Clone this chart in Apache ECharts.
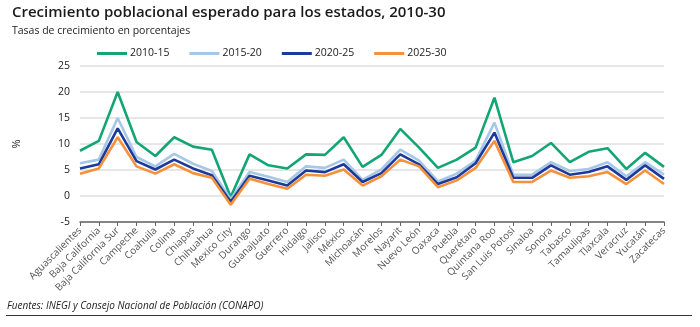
<!DOCTYPE html>
<html>
<head>
<meta charset="utf-8">
<script src="https://cdn.jsdelivr.net/npm/echarts@6/dist/echarts.min.js"></script>
<style>
  html, body { margin: 0; padding: 0; background: #fff; }
  #chart { width: 700px; height: 327px; }
</style>
</head>
<body>
<div id="chart"></div>
<script>
// States of Mexico, in the order shown on the category axis
const states = ['Aguascalientes','Baja California','Baja California Sur','Campeche','Coahuila','Colima','Chiapas','Chihuahua','Mexico City','Durango','Guanajuato','Guerrero','Hidalgo','Jalisco','México','Michoacán','Morelos','Nayarit','Nuevo León','Oaxaca','Puebla','Querétaro','Quintana Roo','San Luis Potosí','Sinaloa','Sonora','Tabasco','Tamaulipas','Tlaxcala','Veracruz','Yucatán','Zacatecas'];

// Expected population growth by period (%)
const growth2010_15 = [8.7,10.6,20.0,10.4,7.7,11.3,9.5,8.9,-0.2,8.0,5.9,5.3,8.0,7.9,11.3,5.6,7.9,12.9,9.3,5.4,7.0,9.3,18.9,6.5,7.7,10.2,6.5,8.5,9.2,5.2,8.3,5.6];
const growth2015_20 = [6.3,7.0,15.0,7.5,5.7,8.1,6.2,4.8,-0.6,4.6,3.7,2.7,5.7,5.4,7.0,3.1,5.1,8.9,6.8,2.8,4.3,6.8,14.1,4.1,4.1,6.5,4.8,5.2,6.5,3.8,6.5,4.1];
const growth2020_25 = [5.3,6.1,13.0,6.7,5.1,7.0,5.3,4.0,-1.1,3.9,3.0,2.0,4.9,4.6,6.1,2.7,4.4,8.0,6.1,2.3,3.6,6.3,12.2,3.5,3.5,5.9,4.1,4.6,5.7,3.1,5.9,3.3];
const growth2025_30 = [4.3,5.3,11.3,5.7,4.3,6.1,4.4,3.5,-1.7,3.3,2.3,1.4,4.1,3.9,5.1,2.0,3.8,7.0,5.7,1.7,3.0,5.4,10.6,2.7,2.7,4.9,3.5,3.8,4.6,2.3,4.9,2.3];

const periods = ['2010-15','2015-20','2020-25','2025-30'];
const colors = ['#13a574','#a7c7e7','#1b3a9c','#f5913a'];
const values = [growth2010_15, growth2015_20, growth2020_25, growth2025_30];

const FONT = '"Open Sans", "Noto Sans", sans-serif';
const chart = echarts.init(document.getElementById('chart'), null, { renderer: 'canvas' });

chart.setOption({
  animation: false,
  textStyle: { fontFamily: FONT },
  title: [
    { text: 'Crecimiento poblacional esperado para los estados, 2010-30', left: 7, top: 0,
      textStyle: { fontFamily: FONT, fontSize: 15, fontWeight: 600, color: '#1a1a1a' } },
    { text: 'Tasas de crecimiento en porcentajes', left: 7, top: 21,
      textStyle: { fontFamily: FONT, fontSize: 10.5, fontWeight: 'normal', color: '#222' } }
  ],
  legend: {
    top: 43, left: 92,
    itemWidth: 30, itemHeight: 3, itemGap: 20,
    icon: 'rect',
    textStyle: { fontFamily: FONT, fontSize: 10.5, color: '#222', padding: [0, 0, 0, -2] },
    data: periods
  },
  grid: { left: 80, right: 36, top: 66, bottom: 105 },
  xAxis: [
    {
      // category labels along the bottom edge of the plot
      type: 'category', data: states, boundaryGap: false, position: 'bottom',
      axisLine: { show: false }, axisTick: { show: false },
      axisLabel: { rotate: 45, fontSize: 10, color: '#555', margin: 7, interval: 0, fontFamily: FONT }
    },
    {
      // baseline with ticks drawn at zero
      type: 'category', data: states, boundaryGap: false, position: 'bottom',
      axisLine: { onZero: true, lineStyle: { color: '#666', width: 1.5 } },
      axisTick: { show: true, inside: false, length: 4, interval: 0, lineStyle: { color: '#666' } },
      axisLabel: { show: false }
    }
  ],
  yAxis: {
    type: 'value', min: -5, max: 25, interval: 5,
    name: '%', nameLocation: 'middle', nameGap: 58, nameRotate: 90,
    nameTextStyle: { fontSize: 11, color: '#222', fontFamily: FONT },
    axisLine: { show: false }, axisTick: { show: false },
    axisLabel: { fontSize: 10.5, color: '#222', margin: 10, fontFamily: FONT },
    splitLine: { lineStyle: { color: '#dedede', width: 1.5 } }
  },
  series: periods.map((p, i) => ({
    name: p, type: 'line', data: values[i],
    symbol: 'none', color: colors[i],
    lineStyle: { width: 2.6, color: colors[i] }
  })),
  graphic: [
    { type: 'text', left: 7, top: 301,
      style: { text: 'Fuentes: INEGI y Consejo Nacional de Población (CONAPO)',
               font: 'italic 10px ' + FONT, fill: '#222' } },
    { type: 'line', shape: { x1: 6, y1: 315.5, x2: 692, y2: 315.5 },
      style: { stroke: '#333', lineWidth: 1.2 } }
  ]
});
</script>
</body>
</html>
